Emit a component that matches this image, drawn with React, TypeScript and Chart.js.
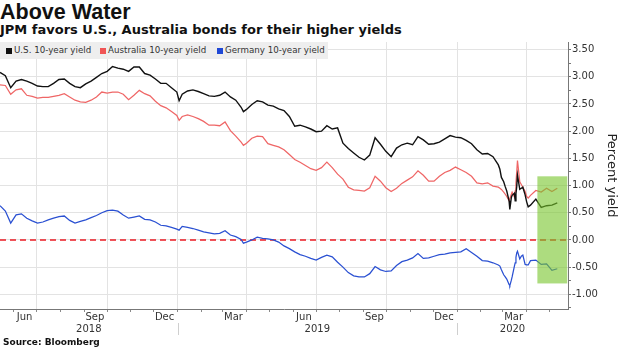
import React, { useEffect, useRef } from 'react';
import { Chart, registerables } from 'chart.js';

Chart.register(...registerables);

// ---- data ----
const dates = [
  '2018-05-14','2018-05-21','2018-05-28','2018-06-04','2018-06-11','2018-06-18','2018-06-25','2018-07-02','2018-07-09','2018-07-16',
  '2018-07-23','2018-07-30','2018-08-06','2018-08-13','2018-08-20','2018-08-27','2018-09-03','2018-09-10','2018-09-17','2018-09-24',
  '2018-10-01','2018-10-08','2018-10-15','2018-10-22','2018-10-29','2018-11-05','2018-11-12','2018-11-19','2018-11-26','2018-12-03',
  '2018-12-10','2018-12-17','2018-12-24','2018-12-31','2019-01-03','2019-01-07','2019-01-14','2019-01-21','2019-01-28','2019-02-04',
  '2019-02-11','2019-02-18','2019-02-25','2019-03-04','2019-03-11','2019-03-18','2019-03-25','2019-03-28','2019-04-01','2019-04-08',
  '2019-04-15','2019-04-22','2019-04-29','2019-05-06','2019-05-13','2019-05-20','2019-05-27','2019-06-03','2019-06-10','2019-06-17',
  '2019-06-24','2019-07-01','2019-07-08','2019-07-15','2019-07-22','2019-07-29','2019-08-05','2019-08-12','2019-08-19','2019-08-26',
  '2019-09-02','2019-09-09','2019-09-16','2019-09-23','2019-09-30','2019-10-07','2019-10-14','2019-10-21','2019-10-28','2019-11-04',
  '2019-11-11','2019-11-18','2019-11-25','2019-12-02','2019-12-09','2019-12-16','2019-12-23','2019-12-30','2020-01-06','2020-01-13',
  '2020-01-20','2020-01-27','2020-02-03','2020-02-10','2020-02-17','2020-02-24','2020-02-26','2020-02-28','2020-03-02','2020-03-04',
  '2020-03-06','2020-03-09','2020-03-10','2020-03-12','2020-03-13','2020-03-16','2020-03-17','2020-03-18','2020-03-19','2020-03-20',
  '2020-03-23','2020-03-25','2020-03-27','2020-03-30','2020-04-01','2020-04-03','2020-04-06','2020-04-13','2020-04-20','2020-04-27',
  '2020-05-04','2020-05-11',
];

const usYield = [
  3.08, 3.02, 2.80, 2.92, 2.95, 2.92, 2.88, 2.83, 2.82, 2.82,
  2.88, 2.95, 2.96, 2.88, 2.82, 2.80, 2.87, 2.92, 2.99, 3.06,
  3.10, 3.19, 3.16, 3.14, 3.10, 3.18, 3.18, 3.06, 3.03, 2.96,
  2.88, 2.88, 2.80, 2.72, 2.56, 2.68, 2.74, 2.76, 2.73, 2.69,
  2.65, 2.64, 2.66, 2.72, 2.63, 2.57, 2.44, 2.36, 2.40, 2.49,
  2.56, 2.54, 2.48, 2.46, 2.41, 2.38, 2.27, 2.09, 2.11, 2.08,
  2.04, 1.99, 2.00, 2.10, 2.04, 2.06, 1.78, 1.68, 1.60, 1.52,
  1.47, 1.56, 1.88, 1.76, 1.63, 1.53, 1.69, 1.75, 1.78, 1.75,
  1.90, 1.84, 1.76, 1.77, 1.80, 1.86, 1.92, 1.89, 1.88, 1.83,
  1.77, 1.66, 1.58, 1.59, 1.53, 1.38, 1.30, 1.15, 1.07, 0.98,
  0.90, 0.72, 0.56, 0.78, 0.82, 0.86, 0.72, 0.85, 0.98, 1.19,
  0.93, 0.95, 0.97, 0.83, 0.70, 0.61, 0.64, 0.75, 0.60, 0.63,
  0.64, 0.68,
];

const auYield = [
  2.85, 2.84, 2.68, 2.76, 2.78, 2.66, 2.64, 2.61, 2.62, 2.62,
  2.64, 2.66, 2.69, 2.63, 2.57, 2.54, 2.53, 2.57, 2.63, 2.72,
  2.70, 2.72, 2.72, 2.68, 2.58, 2.66, 2.75, 2.69, 2.65, 2.55,
  2.47, 2.43, 2.36, 2.29, 2.20, 2.27, 2.30, 2.27, 2.23, 2.18,
  2.11, 2.11, 2.10, 2.17, 2.01, 1.91, 1.80, 1.74, 1.78, 1.87,
  1.91, 1.90, 1.77, 1.74, 1.71, 1.66, 1.57, 1.48, 1.43, 1.37,
  1.31, 1.28, 1.33, 1.43, 1.33, 1.21, 1.12, 0.97, 0.92, 0.91,
  0.90, 0.96, 1.17, 1.08, 0.96, 0.89, 0.95, 1.04, 1.10, 1.16,
  1.27, 1.19, 1.08, 1.08, 1.17, 1.24, 1.28, 1.34, 1.29, 1.24,
  1.17, 1.05, 1.03, 1.05, 0.99, 0.97, 0.95, 0.93, 0.88, 0.84,
  0.80, 0.72, 0.72, 0.84, 0.88, 0.79, 0.90, 1.05, 1.25, 1.46,
  1.07, 1.02, 0.97, 0.89, 0.80, 0.77, 0.82, 0.91, 0.88, 0.95,
  0.89, 0.95,
];

const deYield = [
  0.63, 0.53, 0.31, 0.46, 0.48, 0.40, 0.35, 0.31, 0.33, 0.37,
  0.40, 0.43, 0.44, 0.36, 0.31, 0.34, 0.37, 0.41, 0.45, 0.50,
  0.54, 0.55, 0.53, 0.46, 0.40, 0.42, 0.44, 0.38, 0.37, 0.33,
  0.27, 0.26, 0.23, 0.20, 0.18, 0.25, 0.23, 0.21, 0.18, 0.15,
  0.13, 0.11, 0.12, 0.17, 0.09, 0.06, 0.01, -0.06, -0.04, 0.00,
  0.05, 0.03, 0.02, 0.00, -0.04, -0.11, -0.16, -0.22, -0.27, -0.30,
  -0.34, -0.37, -0.32, -0.28, -0.31, -0.41, -0.50, -0.60, -0.66, -0.68,
  -0.68, -0.62, -0.49, -0.55, -0.58, -0.57, -0.47, -0.40, -0.37, -0.33,
  -0.25, -0.34, -0.33, -0.30, -0.27, -0.26, -0.24, -0.23, -0.22, -0.16,
  -0.23, -0.30, -0.38, -0.39, -0.42, -0.46, -0.48, -0.55, -0.64, -0.68,
  -0.72, -0.82, -0.84, -0.74, -0.68, -0.48, -0.42, -0.32, -0.24, -0.21,
  -0.35, -0.30, -0.28, -0.45, -0.46, -0.46, -0.38, -0.37, -0.45, -0.44,
  -0.56, -0.53,
];

const seriesNames = ['U.S. 10-year yield', 'Australia 10-year yield', 'Germany 10-year yield'];

const xStart = '2018-05-14';
const xEnd = '2020-05-25';
const monthStarts = [
  '2018-06-01','2018-07-01','2018-08-01','2018-09-01','2018-10-01','2018-11-01','2018-12-01',
  '2019-01-01','2019-02-01','2019-03-01','2019-04-01','2019-05-01','2019-06-01','2019-07-01','2019-08-01','2019-09-01','2019-10-01','2019-11-01','2019-12-01',
  '2020-01-01','2020-02-01','2020-03-01','2020-04-01','2020-05-01',
];
const monthLabelDates = ['2018-06-15','2018-09-15','2018-12-15','2019-03-15','2019-06-15','2019-09-15','2019-12-15','2020-03-15'];
const monthLabels = ['Jun','Sep','Dec','Mar','Jun','Sep','Dec','Mar'];
const yearStarts = ['2019-01-01','2020-01-01'];
const yearLabels = ['2018','2019','2020'];
const yTicks = [-1, -0.5, 0, 0.5, 1, 1.5, 2, 2.5, 3, 3.5];
const yMin = -1.27;
const yMax = 3.64;

const boxStart = '2020-04-15';
const boxEnd = '2020-05-24';
const boxTop = 1.17;
const boxBottom = -0.8;

// ---- helpers ----
const dayNum = (s: string) => {
  const [y, m, d] = s.split('-').map(Number);
  return (Date.UTC(y, m - 1, d) - Date.UTC(2018, 0, 1)) / 86400000;
};

const COLORS = ['#111111', '#ef6666', '#2a50d2'];

const noPad = (s: any) => {
  s.paddingTop = 0;
  s.paddingBottom = 0;
  s.paddingLeft = 0;
  s.paddingRight = 0;
};

export default function App() {
  const ref = useRef<HTMLCanvasElement | null>(null);

  useEffect(() => {
    const canvas = ref.current;
    if (!canvas) return;
    const xMin = dayNum(xStart);
    const xMax = dayNum(xEnd);
    const monthDays = monthStarts.map(dayNum);
    const labelDays = monthLabelDates.map(dayNum);
    const labelMap = new Map<number, string>(labelDays.map((d, i) => [d, monthLabels[i]]));
    const quarterSet = new Set<number>(
      monthStarts.filter((s) => ['01', '04', '07', '10'].includes(s.slice(5, 7))).map(dayNum)
    );
    const bounds = [xMin, ...yearStarts.map(dayNum), xMax];
    const yearMids = yearLabels.map((_, i) => (bounds[i] + bounds[i + 1]) / 2);
    const minorY = yTicks.slice(0, -1).map((v) => v + 0.25).concat([yTicks[0] - 0.25]);
    const allY = [...yTicks, ...minorY].filter((v) => v >= yMin && v <= yMax).sort((a, b) => a - b);
    const isMajor = (v: number) => yTicks.some((t) => Math.abs(t - v) < 1e-9);

    const series = [usYield, auYield, deYield];
    const datasets: any[] = series.map((vals, i) => ({
      label: seriesNames[i],
      data: dates.map((d, j) => ({ x: dayNum(d), y: vals[j] })),
      borderColor: COLORS[i],
      borderWidth: i === 0 ? 1.4 : 1.25,
      pointRadius: 0,
      tension: 0,
      fill: false,
      order: i,
    }));
    datasets.push({
      label: 'zero',
      data: [{ x: xMin, y: 0 }, { x: xMax, y: 0 }],
      borderColor: '#ec1c24',
      borderWidth: 1.6,
      borderDash: [6, 4],
      pointRadius: 0,
      fill: false,
      order: 5,
    });

    const overlay = {
      id: 'overlay',
      afterDatasetsDraw(chart: any) {
        const { ctx, scales } = chart;
        const x = scales.x;
        const y = scales.y;
        const x0 = x.getPixelForValue(dayNum(boxStart));
        const x1 = x.getPixelForValue(dayNum(boxEnd));
        const y0 = y.getPixelForValue(boxTop);
        const y1 = y.getPixelForValue(boxBottom);
        ctx.save();
        ctx.fillStyle = 'rgba(118,196,42,0.6)';
        ctx.fillRect(x0, y0, x1 - x0, y1 - y0);
        ctx.restore();
      },
      afterDraw(chart: any) {
        const { ctx, scales } = chart;
        const ys = scales.xYears;
        ctx.save();
        ctx.strokeStyle = '#cfcfcf';
        ctx.lineWidth = 1;
        yearStarts.forEach((s) => {
          const px = Math.round(scales.x.getPixelForValue(dayNum(s))) + 0.5;
          ctx.beginPath();
          ctx.moveTo(px, ys.top - 1);
          ctx.lineTo(px, ys.bottom - 3);
          ctx.stroke();
        });
        ctx.restore();
      },
    };

    const tickFont = { family: 'DejaVu Sans', size: 10, lineHeight: 1 };

    const chart = new Chart(canvas, {
      type: 'line',
      data: { datasets },
      plugins: [overlay],
      options: {
        animation: false,
        responsive: false,
        devicePixelRatio: 1,
        layout: { padding: { top: 0, right: 0, bottom: 10, left: 0 } },
        plugins: { legend: { display: false }, tooltip: { enabled: false } },
        scales: {
          x: {
            type: 'linear',
            position: 'bottom',
            weight: 0,
            min: xMin,
            max: xMax,
            afterBuildTicks: (s: any) => {
              s.ticks = [...monthDays, ...labelDays].sort((a, b) => a - b).map((v) => ({ value: v }));
            },
            afterFit: (s: any) => { s.height = 15; noPad(s); },
            grid: {
              color: (c: any) => (c.tick && quarterSet.has(c.tick.value) ? '#e3e3e3' : 'rgba(0,0,0,0)'),
              tickColor: (c: any) => (c.tick && labelMap.has(c.tick.value) ? 'rgba(0,0,0,0)' : '#8a8a8a'),
              tickLength: 3,
              lineWidth: 1,
            },
            border: { color: '#777777', width: 1 },
            ticks: {
              autoSkip: false,
              maxRotation: 0,
              minRotation: 0,
              padding: 0,
              color: '#333333',
              font: tickFont,
              callback: (v: any) => labelMap.get(Number(v)) ?? '',
            },
          },
          xYears: {
            type: 'linear',
            position: 'bottom',
            weight: 1,
            min: xMin,
            max: xMax,
            afterBuildTicks: (s: any) => { s.ticks = yearMids.map((v) => ({ value: v })); },
            afterFit: (s: any) => { s.height = 14; noPad(s); },
            grid: { display: false, drawTicks: false },
            border: { display: false },
            ticks: {
              autoSkip: false,
              maxRotation: 0,
              minRotation: 0,
              padding: 0,
              color: '#333333',
              font: tickFont,
              callback: (_v: any, i: number) => yearLabels[i],
            },
          },
          y: {
            type: 'linear',
            position: 'right',
            min: yMin,
            max: yMax,
            afterBuildTicks: (s: any) => { s.ticks = allY.map((v) => ({ value: v })); },
            afterFit: (s: any) => { s.width = 52; noPad(s); },
            grid: {
              color: (c: any) => (c.tick && isMajor(c.tick.value) ? '#e3e3e3' : 'rgba(0,0,0,0)'),
              tickColor: '#777777',
              tickLength: 3,
            },
            border: { color: '#777777', width: 1 },
            ticks: {
              autoSkip: false,
              padding: 1,
              color: '#333333',
              font: { family: 'DejaVu Sans', size: 10 },
              callback: (v: any) => (isMajor(Number(v)) ? Number(v).toFixed(2) : ''),
            },
            title: {
              display: true,
              text: 'Percent yield',
              color: '#222222',
              font: { family: 'DejaVu Sans', size: 13 },
              padding: { top: 1, bottom: 0 },
            },
          },
        },
      },
    } as any);
    return () => chart.destroy();
  }, []);

  const legendItems = [
    { left: 6, color: '#111111' },
    { left: 100, color: '#f05555' },
    { left: 217, color: '#1f48d6' },
  ];

  return (
    <div style={{ position: 'fixed', left: 0, top: 0, width: 620, height: 348, background: '#ffffff', overflow: 'hidden' }}>
      <div style={{ position: 'absolute', left: 0, top: 1, fontFamily: 'Liberation Sans', fontWeight: 700, fontSize: 21.5, lineHeight: '22px', color: '#111', whiteSpace: 'nowrap' }}>
        Above Water
      </div>
      <div style={{ position: 'absolute', left: 0, top: 23, fontFamily: 'DejaVu Sans', fontWeight: 700, fontSize: 13, lineHeight: '14px', color: '#111', whiteSpace: 'nowrap' }}>
        JPM favors U.S., Australia bonds for their higher yields
      </div>
      <canvas ref={ref} width={620} height={306} style={{ position: 'absolute', left: 0, top: 42, width: 620, height: 306 }} />
      <div style={{ position: 'absolute', left: 0, top: 42, width: 328, height: 17, background: '#eeeeee' }}>
        {legendItems.map((it, i) => (
          <div key={i} style={{ position: 'absolute', left: it.left, top: 0, height: 17, display: 'flex', alignItems: 'center', whiteSpace: 'nowrap' }}>
            <span style={{ display: 'inline-block', width: 6, height: 6, background: it.color, marginRight: 2 }} />
            <span style={{ fontFamily: 'DejaVu Sans', fontSize: 8.7, color: '#333', lineHeight: '17px' }}>{seriesNames[i]}</span>
          </div>
        ))}
      </div>
      <div style={{ position: 'absolute', left: 3, top: 337, fontFamily: 'DejaVu Sans', fontWeight: 700, fontSize: 9, lineHeight: '10px', color: '#111', whiteSpace: 'nowrap' }}>
        Source: Bloomberg
      </div>
    </div>
  );
}
